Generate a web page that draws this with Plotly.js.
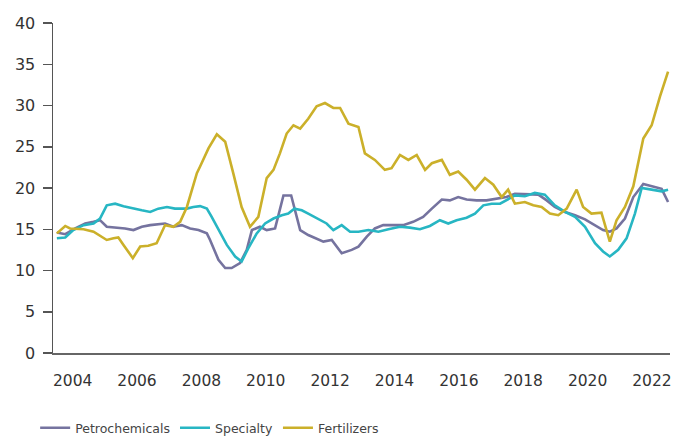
<!DOCTYPE html>
<html>
<head>
<meta charset="utf-8">
<script src="https://cdn.plot.ly/plotly-3.0.1.min.js"></script>
<style>html,body{margin:0;padding:0;background:#fff}#chart{width:676px;height:436px}</style>
</head>
<body>
<div id="chart"></div>
<script>
// Series names
var seriesNames = ["Petrochemicals", "Specialty", "Fertilizers"];

// Petrochemicals (decimal years, values)
var petroX = [2003.51,2003.77,2004.08,2004.39,2004.65,2004.85,2005.06,2005.37,2005.63,2005.89,2006.15,2006.41,2006.87,2007.13,2007.39,2007.65,2007.91,2008.17,2008.27,2008.53,2008.74,2008.94,2009.20,2009.41,2009.57,2009.82,2010.03,2010.29,2010.44,2010.55,2010.79,2010.91,2011.07,2011.32,2011.58,2011.79,2012.05,2012.36,2012.67,2012.88,2013.14,2013.39,2013.65,2013.96,2014.27,2014.58,2014.89,2015.16,2015.47,2015.72,2015.98,2016.24,2016.55,2016.86,2017.17,2017.48,2017.74,2018.16,2018.47,2018.73,2018.98,2019.30,2019.61,2019.92,2020.23,2020.48,2020.69,2020.90,2021.16,2021.42,2021.73,2021.99,2022.30,2022.50];
var petroY = [14.6,14.4,15.1,15.7,15.9,16.1,15.3,15.2,15.1,14.9,15.3,15.5,15.7,15.3,15.5,15.1,14.9,14.5,13.7,11.3,10.3,10.3,10.9,12.5,14.9,15.3,14.9,15.1,17.3,19.1,19.1,17.3,14.9,14.3,13.9,13.5,13.7,12.1,12.5,12.9,14.1,15.1,15.5,15.5,15.5,15.9,16.5,17.5,18.6,18.5,18.9,18.6,18.5,18.5,18.7,18.9,19.3,19.2,19.2,18.5,17.7,17.1,16.7,16.2,15.5,14.9,14.7,15.1,16.3,18.9,20.5,20.2,19.9,18.3];

// Specialty
var specX = [2003.51,2003.77,2004.02,2004.34,2004.65,2004.85,2005.06,2005.32,2005.58,2005.89,2006.15,2006.41,2006.66,2006.93,2007.18,2007.55,2007.75,2007.96,2008.17,2008.32,2008.53,2008.79,2009.05,2009.25,2009.46,2009.72,2009.98,2010.24,2010.50,2010.70,2010.89,2011.12,2011.32,2011.63,2011.89,2012.10,2012.36,2012.62,2012.88,2013.19,2013.50,2013.81,2014.17,2014.48,2014.79,2015.10,2015.41,2015.67,2015.93,2016.24,2016.50,2016.76,2017.02,2017.28,2017.53,2017.74,2018.05,2018.36,2018.67,2018.98,2019.30,2019.61,2019.92,2020.23,2020.48,2020.69,2020.95,2021.21,2021.47,2021.68,2021.99,2022.30,2022.50];
var specY = [13.9,14.0,14.9,15.5,15.7,16.3,17.9,18.1,17.8,17.5,17.3,17.1,17.5,17.7,17.5,17.5,17.7,17.8,17.5,16.5,14.9,13.1,11.7,11.1,12.7,14.5,15.7,16.3,16.7,16.9,17.5,17.3,16.9,16.3,15.7,14.9,15.5,14.7,14.7,14.9,14.7,15.0,15.3,15.2,15.0,15.4,16.1,15.7,16.1,16.4,16.9,17.9,18.1,18.1,18.7,19.1,19.0,19.4,19.2,17.9,17.1,16.5,15.3,13.3,12.3,11.7,12.5,13.9,16.9,20.0,19.8,19.6,19.8];

// Fertilizers
var fertX = [2003.51,2003.77,2003.92,2004.34,2004.65,2005.06,2005.27,2005.42,2005.58,2005.87,2006.10,2006.35,2006.61,2006.87,2007.13,2007.34,2007.55,2007.86,2007.96,2008.22,2008.48,2008.74,2008.99,2009.25,2009.51,2009.77,2010.03,2010.24,2010.44,2010.65,2010.86,2011.07,2011.32,2011.58,2011.84,2012.10,2012.31,2012.57,2012.88,2013.08,2013.39,2013.70,2013.91,2014.17,2014.43,2014.69,2014.95,2015.16,2015.47,2015.72,2015.98,2016.24,2016.50,2016.81,2017.07,2017.33,2017.53,2017.74,2018.05,2018.31,2018.57,2018.83,2019.09,2019.35,2019.66,2019.86,2020.12,2020.43,2020.69,2020.90,2021.16,2021.42,2021.73,2021.99,2022.25,2022.50];
var fertY = [14.5,15.4,15.1,15.0,14.7,13.7,13.9,14.0,13.1,11.5,12.9,13.0,13.3,15.5,15.3,15.9,17.7,21.8,22.6,24.8,26.5,25.6,21.8,17.7,15.3,16.5,21.2,22.2,24.2,26.6,27.6,27.2,28.4,29.9,30.3,29.7,29.7,27.8,27.4,24.2,23.4,22.2,22.4,24.0,23.4,24.0,22.2,23.0,23.4,21.6,22.0,21.0,19.8,21.2,20.4,18.9,19.8,18.1,18.3,17.9,17.7,16.9,16.7,17.5,19.8,17.7,16.9,17.0,13.5,16.1,17.7,20.2,26.0,27.6,31.1,34.1];

// Axis ticks
var yTickVals = [0,5,10,15,20,25,30,35,40];
var xTickVals = [2004,2006,2008,2010,2012,2014,2016,2018,2020,2022];
var xTickText = ["2004","2006","2008","2010","2012","2014","2016","2018","2020","2022"];

var colors = ["#75739f", "#27b6c3", "#cbb02a"];
var FONT = "DejaVu Sans";

var traces = [
  {x: petroX, y: petroY, name: seriesNames[0]},
  {x: specX, y: specY, name: seriesNames[1]},
  {x: fertX, y: fertY, name: seriesNames[2]}
].map(function(t, i){
  t.type = "scatter"; t.mode = "lines";
  t.line = {color: colors[i], width: 2.6};
  return t;
});

var layout = {
  width: 676, height: 436,
  margin: {l: 53, r: 6, t: 23, b: 83, autoexpand: false},
  paper_bgcolor: "#fff", plot_bgcolor: "#fff",
  showlegend: true,
  legend: {orientation: "h", xref: "container", x: 0.052, xanchor: "left",
           yref: "container", y: 0.018, yanchor: "middle",
           font: {family: FONT, size: 12.5, color: "#444"}, traceorder: "normal"},
  xaxis: {
    range: [2003.39, 2022.56], tickvals: xTickVals, ticktext: xTickText,
    automargin: false,
    showgrid: false, zeroline: false, showline: true, linecolor: "#666", linewidth: 1.5,
    ticks: "", ticklabelstandoff: 13,
    tickfont: {family: FONT, size: 15.5, color: "#333"}
  },
  yaxis: {
    range: [0, 40], tickvals: yTickVals, automargin: false,
    showgrid: false, zeroline: false, showline: true, linecolor: "#555", linewidth: 1.5,
    ticks: "outside", ticklen: 9, tickcolor: "#555", tickwidth: 1.5, ticklabelstandoff: 4,
    tickfont: {family: FONT, size: 16, color: "#333"}
  }
};

Plotly.newPlot("chart", traces, layout, {displayModeBar: false, staticPlot: true});
</script>
</body>
</html>
